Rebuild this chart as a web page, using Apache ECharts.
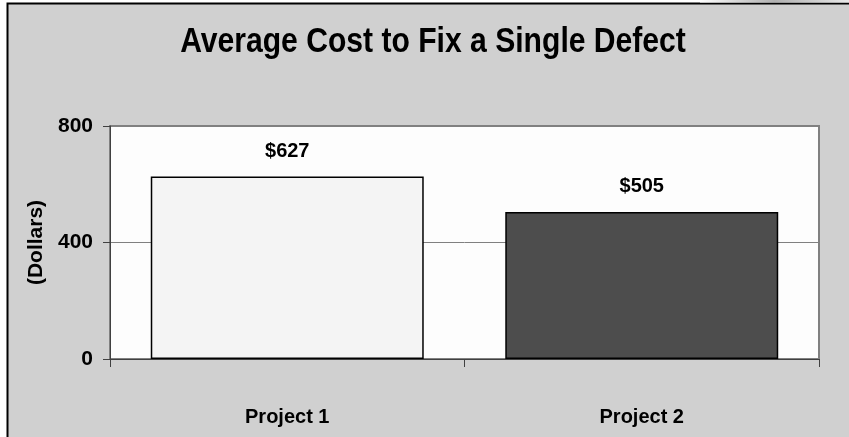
<!DOCTYPE html>
<html>
<head>
<meta charset="utf-8">
<script src="https://cdn.jsdelivr.net/npm/echarts@6/dist/echarts.min.js"></script>
<style>
  html, body { margin: 0; padding: 0; background: #fff; }
  #chart { width: 849px; height: 437px; }
</style>
</head>
<body>
<div id="chart"></div>
<script>
  // chart data
  var titleText = 'Average Cost to Fix a Single Defect';
  var categories = ['Project 1', 'Project 2'];
  var costs = [627, 505];
  var barColors = ['#f4f4f4', '#4d4d4d'];
  var yTicks = [0, 400, 800];

  var font = '"Liberation Sans", Arial, sans-serif';

  var chart = echarts.init(document.getElementById('chart'));
  var option = {
    backgroundColor: '#ffffff',
    animation: false,
    graphic: [
      { // grey chart area with black frame
        type: 'rect', z: -10, silent: true,
        shape: { x: 7.5, y: 3.5, width: 860, height: 450 },
        style: { fill: '#d0d0d0', stroke: '#000', lineWidth: 2 }
      },
      { // faint shading above the frame, top right
        type: 'rect', z: -9, silent: true,
        shape: { x: 700, y: 0, width: 149, height: 2.5 },
        style: {
          fill: new echarts.graphic.LinearGradient(0, 0, 1, 0, [
            { offset: 0, color: '#ffffff' },
            { offset: 0.5, color: '#b0b0b0' },
            { offset: 1, color: '#e8e8e8' }
          ])
        }
      },
      { // title, squeezed like the narrow font in the original
        type: 'text', silent: true,
        x: 433, y: 42, scaleX: 0.86,
        style: {
          text: titleText,
          textAlign: 'center',
          textVerticalAlign: 'middle',
          font: 'bold 35px ' + font,
          fill: '#000'
        }
      }
    ],
    grid: {
      left: 110, right: 30, top: 126, bottom: 78,
      show: true,
      backgroundColor: '#fdfdfd',
      borderColor: '#808080',
      borderWidth: 2
    },
    xAxis: {
      type: 'category',
      data: categories,
      axisLine: { lineStyle: { color: '#404040', width: 1 } },
      axisTick: { show: true, length: 8, alignWithLabel: false, lineStyle: { color: '#404040' } },
      axisLabel: { margin: 48, fontFamily: font, fontSize: 20, fontWeight: 'bold', color: '#000' }
    },
    yAxis: {
      type: 'value',
      min: yTicks[0],
      max: yTicks[yTicks.length - 1],
      interval: yTicks[1] - yTicks[0],
      name: '(Dollars)',
      nameLocation: 'middle',
      nameGap: 56,
      nameTextStyle: { fontFamily: font, fontSize: 21, fontWeight: 'bold', color: '#000' },
      axisLine: { show: true, lineStyle: { color: '#404040', width: 1 } },
      axisTick: { show: true, length: 7, lineStyle: { color: '#404040' } },
      axisLabel: { margin: 17, fontFamily: font, fontSize: 21, fontWeight: 'bold', color: '#000' },
      splitLine: { show: true, lineStyle: { color: '#808080', width: 1 } }
    },
    series: [{
      type: 'bar',
      barCategoryGap: '23%',
      data: costs.map(function (v, i) {
        return { value: v, itemStyle: { color: barColors[i] } };
      }),
      itemStyle: { borderColor: '#000', borderWidth: 1.5 },
      label: {
        show: true,
        position: 'top',
        distance: 15,
        formatter: function (p) { return '$' + p.value; },
        fontFamily: font, fontSize: 20, fontWeight: 'bold', color: '#000'
      }
    }]
  };
  chart.setOption(option);
</script>
</body>
</html>
